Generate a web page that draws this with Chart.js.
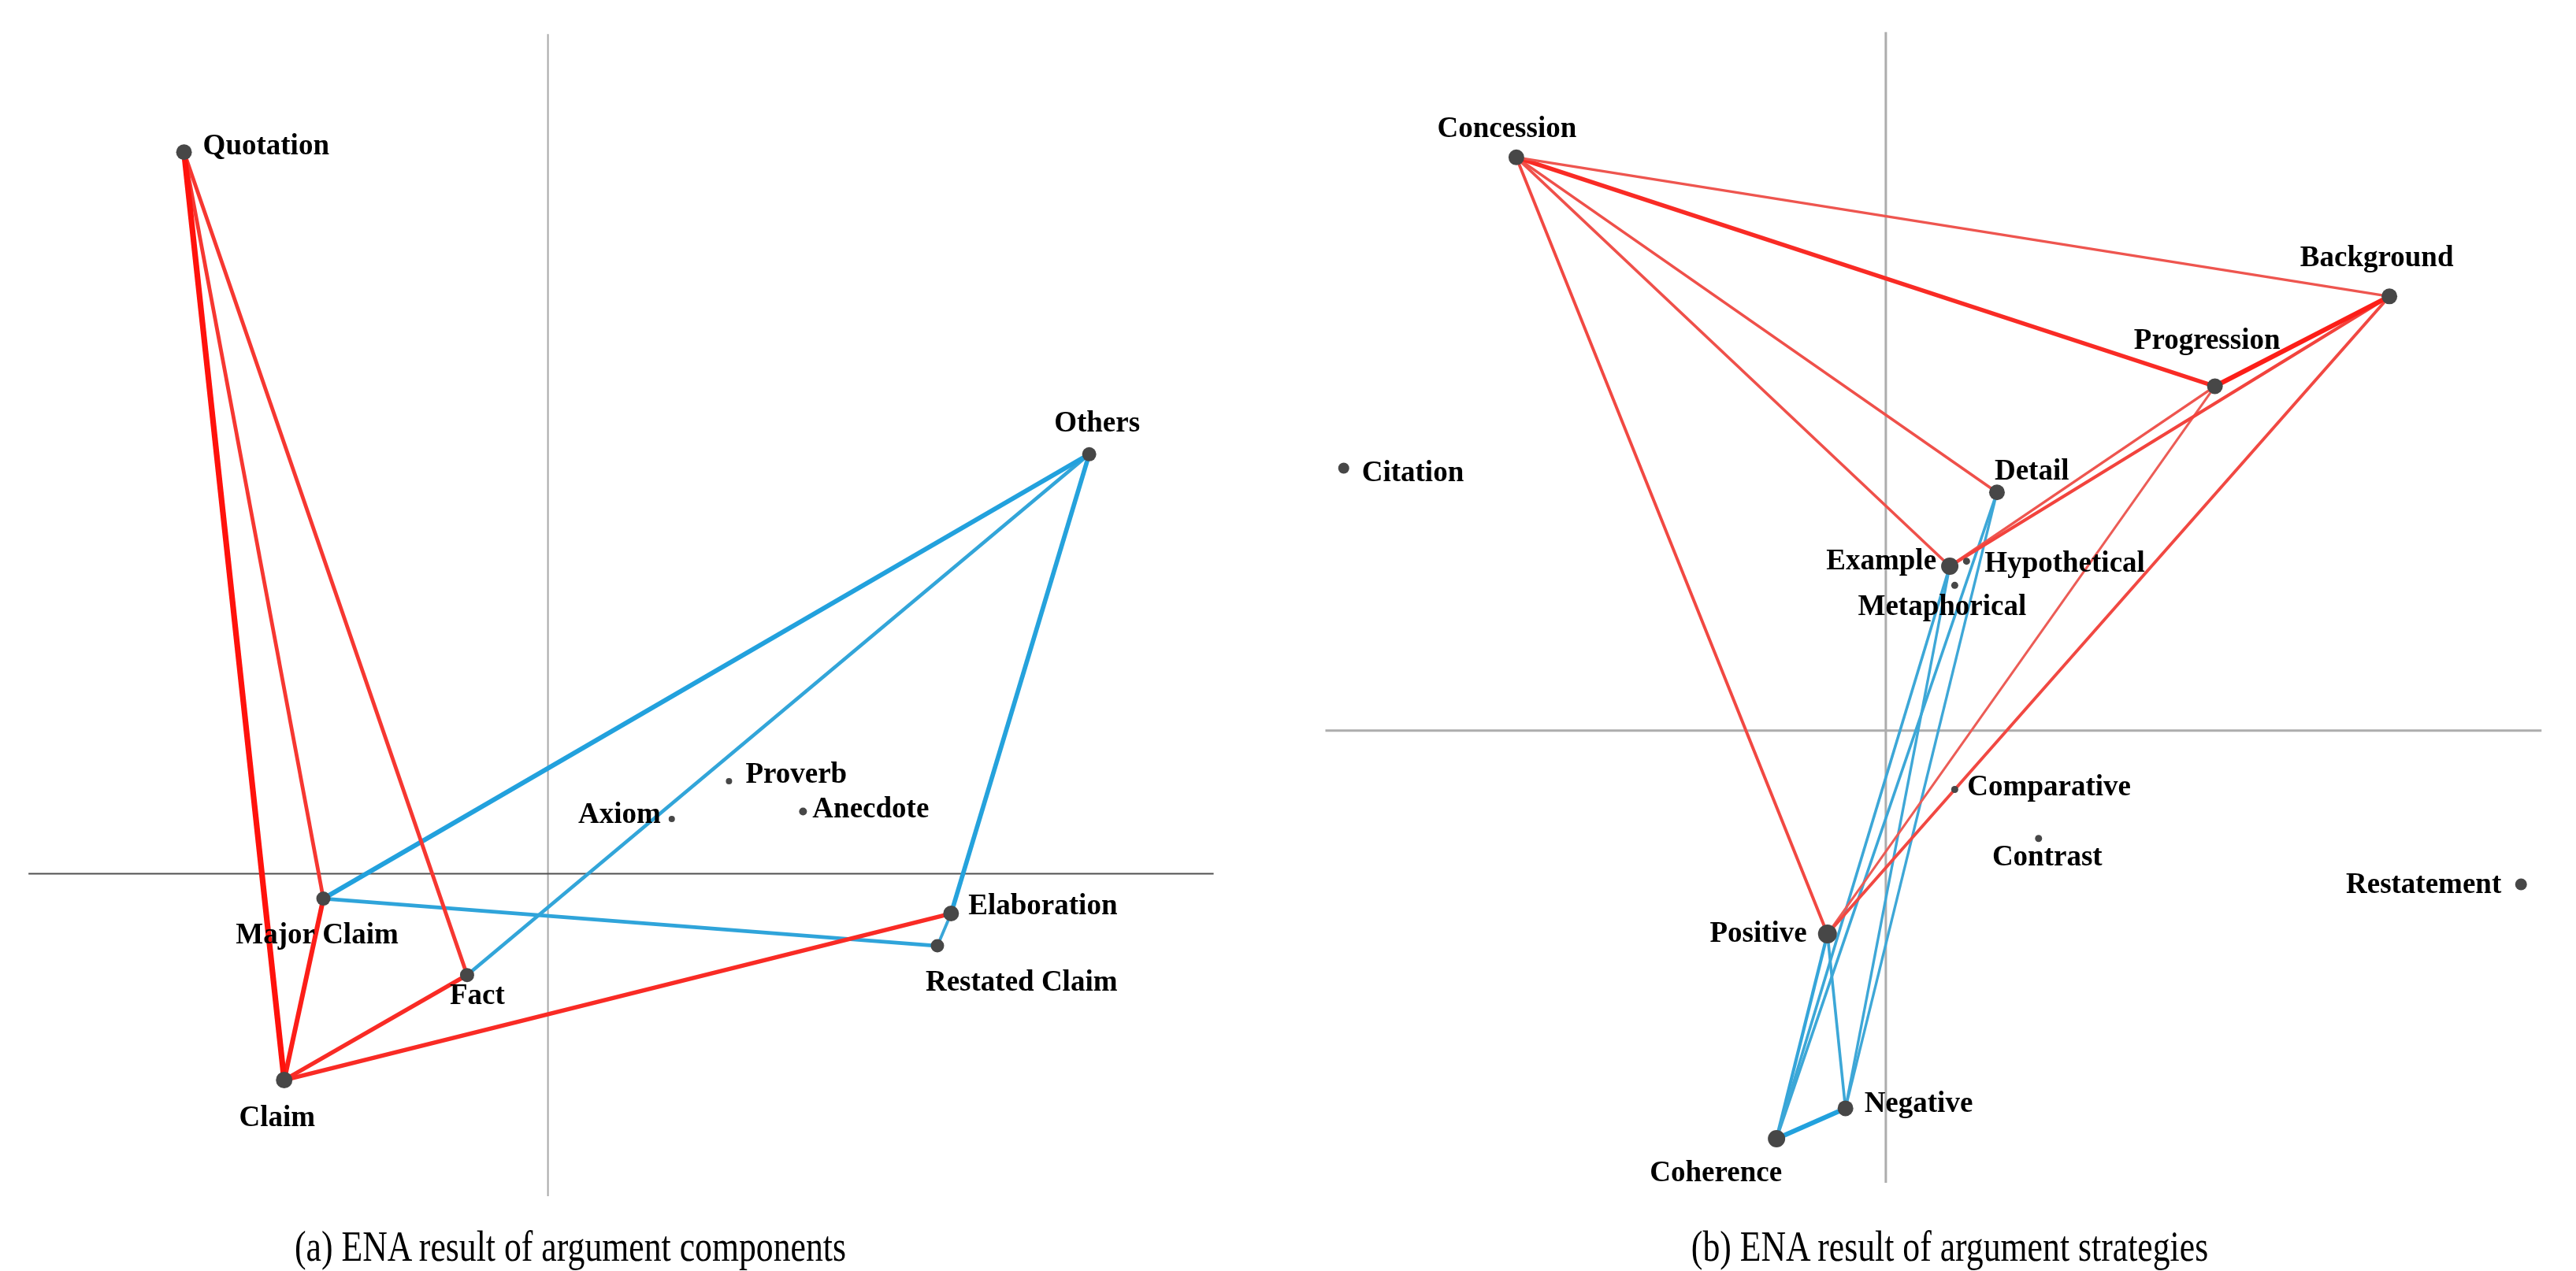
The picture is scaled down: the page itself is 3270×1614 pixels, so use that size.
<!DOCTYPE html>
<html>
<head>
<meta charset="utf-8">
<script src="https://cdn.jsdelivr.net/npm/chart.js@4.4.1/dist/chart.umd.min.js"></script>
<style>
  html, body { margin: 0; padding: 0; background: #fff; }
  body { width: 3270px; height: 1614px; position: relative; overflow: hidden; }
  canvas { position: absolute; top: 0; }
  #left { left: 0; }
  #right { left: 1635px; }
  .caption {
    position: absolute; top: 1556px; width: 1200px; text-align: center;
    font-family: "Liberation Serif", "Times New Roman", serif; font-size: 54px; line-height: 54px;
    color: #000; transform: scaleX(0.81); transform-origin: center top; white-space: nowrap;
  }
</style>
</head>
<body>
<canvas id="left" width="1635" height="1560"></canvas>
<canvas id="right" width="1635" height="1560"></canvas>
<div class="caption" style="left: 124px;">(a) ENA result of argument components</div>
<div class="caption" style="left: 1875px;">(b) ENA result of argument strategies</div>
<script>
// ---- data: (a) argument components ----
const leftNodes = ['Quotation', 'Others', 'Proverb', 'Axiom', 'Anecdote', 'Major Claim', 'Elaboration', 'Restated Claim', 'Fact', 'Claim'];
const leftX = [-0.585, 0.870, 0.291, 0.199, 0.410, -0.361, 0.648, 0.626, -0.130, -0.424];
const leftY = [1.161, 0.675, 0.149, 0.088, 0.100, -0.040, -0.064, -0.116, -0.163, -0.332];
const leftEdges = [
    ['Quotation', 'Claim'], ['Quotation', 'Major Claim'], ['Quotation', 'Fact'],
    ['Claim', 'Major Claim'], ['Claim', 'Fact'], ['Claim', 'Elaboration'],
    ['Major Claim', 'Others'], ['Fact', 'Others'], ['Elaboration', 'Others'],
    ['Major Claim', 'Restated Claim'], ['Elaboration', 'Restated Claim']
];
const leftEdgeWeight = [0.60, 0.40, 0.40, 0.50, 0.45, 0.45, 0.50, 0.38, 0.48, 0.40, 0.32];
const leftEdgeGroup = ['red', 'red', 'red', 'red', 'red', 'red', 'blue', 'blue', 'blue', 'blue', 'blue'];

// ---- data: (b) argument strategies ----
const rightNodes = ['Concession', 'Background', 'Progression', 'Citation', 'Detail', 'Example', 'Hypothetical',
    'Metaphorical', 'Comparative', 'Contrast', 'Restatement', 'Positive', 'Negative', 'Coherence'];
const rightX = [-0.595, 0.811, 0.530, -0.873, 0.179, 0.103, 0.130, 0.111, 0.111, 0.246, 1.023, -0.094, -0.065, -0.176];
const rightY = [0.924, 0.700, 0.555, 0.423, 0.384, 0.265, 0.273, 0.234, -0.095, -0.174, -0.248, -0.328, -0.609, -0.658];
const rightEdges = [
    ['Concession', 'Background'], ['Concession', 'Progression'], ['Concession', 'Detail'],
    ['Concession', 'Example'], ['Concession', 'Positive'], ['Progression', 'Background'],
    ['Background', 'Example'], ['Progression', 'Example'], ['Background', 'Positive'], ['Progression', 'Positive'],
    ['Example', 'Coherence'], ['Detail', 'Coherence'], ['Example', 'Negative'], ['Detail', 'Negative'],
    ['Positive', 'Coherence'], ['Positive', 'Negative'], ['Coherence', 'Negative']
];
const rightEdgeWeight = [0.28, 0.45, 0.30, 0.30, 0.33, 0.50, 0.35, 0.28, 0.33, 0.25, 0.30, 0.30, 0.28, 0.28, 0.35, 0.30, 0.50];
const rightEdgeGroup = ['red', 'red', 'red', 'red', 'red', 'red', 'red', 'red', 'red', 'red',
    'blue', 'blue', 'blue', 'blue', 'blue', 'blue', 'blue'];

// ---- styles / layout ----
const leftRadius = [10, 9, 4, 4, 5, 9, 10, 8.5, 9, 10.5];
const rightRadius = [10, 10, 10, 7, 10, 11, 4.5, 4.5, 4.5, 4.5, 7.5, 12, 10, 11];

// label offsets from the node centre in pixels: [dx, dy(baseline), align]
const leftLabelPos = {
    'Quotation': [24, 3, 'left'], 'Others': [10, -29, 'center'], 'Proverb': [21, 2, 'left'],
    'Axiom': [-14, 5, 'right'], 'Anecdote': [12, 7, 'left'], 'Major Claim': [-8, 57, 'center'],
    'Elaboration': [22, 1, 'left'], 'Restated Claim': [-15, 57, 'left'], 'Fact': [13, 37, 'center'],
    'Claim': [-9, 58, 'center']
};
const rightLabelPos = {
    'Concession': [-12, -26, 'center'], 'Background': [-16, -38, 'center'], 'Progression': [-10, -48, 'center'],
    'Citation': [23, 17, 'left'], 'Detail': [-3, -16, 'left'], 'Example': [-17, 4, 'right'],
    'Hypothetical': [23, 13, 'left'], 'Metaphorical': [-16, 38, 'center'], 'Comparative': [16, 7, 'left'],
    'Contrast': [11, 34, 'center'], 'Restatement': [-25, 11, 'right'], 'Positive': [-26, 10, 'right'],
    'Negative': [24, 5, 'left'], 'Coherence': [-77, 54, 'center']
};

function mix(a, b, t) {
    const c = a.map((v, i) => Math.round(v + (b[i] - v) * t));
    return `rgb(${c[0]}, ${c[1]}, ${c[2]})`;
}

function edgeColor(group, w) {
    // heavier edges are more saturated
    const t = Math.min(1, Math.max(0, (w - 0.25) / 0.3));
    if (group === 'red') {
        return mix([236, 92, 86], [255, 18, 12], t);
    }
    return mix([66, 168, 214], [28, 160, 222], t);
}

const labelPlugin = {
    id: 'nodeLabels',
    afterDatasetsDraw(chart, args, opts) {
        const ctx = chart.ctx;
        const xs = chart.scales.x;
        const ys = chart.scales.y;
        ctx.save();
        ctx.fillStyle = '#000';
        ctx.font = 'bold 37px "Liberation Serif", "Times New Roman", serif';
        ctx.textBaseline = 'alphabetic';
        opts.names.forEach((name, i) => {
            const p = opts.pos[name];
            ctx.textAlign = p[2];
            ctx.fillText(name, xs.getPixelForValue(opts.xs[i]) + p[0], ys.getPixelForValue(opts.ys[i]) + p[1]);
        });
        ctx.restore();
    }
};

function buildChart(canvasId, cfg) {
    const datasets = [];

    datasets.push({
        data: cfg.names.map((n, i) => ({ x: cfg.xs[i], y: cfg.ys[i] })),
        pointRadius: cfg.radius,
        pointBackgroundColor: '#474747',
        pointBorderWidth: 0,
        showLine: false,
        order: 0
    });

    cfg.edges.forEach((e, i) => {
        const a = cfg.names.indexOf(e[0]);
        const b = cfg.names.indexOf(e[1]);
        datasets.push({
            data: [{ x: cfg.xs[a], y: cfg.ys[a] }, { x: cfg.xs[b], y: cfg.ys[b] }],
            showLine: true,
            borderColor: edgeColor(cfg.groups[i], cfg.weights[i]),
            borderWidth: cfg.weights[i] * 12,
            pointRadius: 0,
            order: 1
        });
    });

    // the two axes through the origin
    datasets.push({
        data: [{ x: cfg.axisX[0], y: 0 }, { x: cfg.axisX[1], y: 0 }],
        showLine: true, borderColor: cfg.hColor, borderWidth: cfg.axisWidth, pointRadius: 0, order: 2
    });
    datasets.push({
        data: [{ x: 0, y: cfg.axisY[0] }, { x: 0, y: cfg.axisY[1] }],
        showLine: true, borderColor: cfg.vColor, borderWidth: cfg.axisWidth, pointRadius: 0, order: 2
    });

    return new Chart(document.getElementById(canvasId).getContext('2d'), {
        type: 'scatter',
        data: { datasets: datasets },
        options: {
            responsive: false,
            devicePixelRatio: 1,
            animation: false,
            events: [],
            layout: { padding: 0 },
            scales: {
                x: { display: false, min: cfg.xRange[0], max: cfg.xRange[1] },
                y: { display: false, min: cfg.yRange[0], max: cfg.yRange[1] }
            },
            plugins: {
                legend: { display: false },
                tooltip: { enabled: false },
                nodeLabels: { names: cfg.names, xs: cfg.xs, ys: cfg.ys, pos: cfg.labelPos }
            }
        },
        plugins: [labelPlugin]
    });
}

buildChart('left', {
    names: leftNodes, xs: leftX, ys: leftY, radius: leftRadius,
    edges: leftEdges, weights: leftEdgeWeight, groups: leftEdgeGroup,
    labelPos: leftLabelPos,
    xRange: [-0.8675, 1.17625], yRange: [-0.5575, 1.3925],
    axisX: [-0.835, 1.07], axisY: [-0.519, 1.351],
    hColor: '#505050', vColor: '#A8A8A8', axisWidth: 2
});

buildChart('right', {
    names: rightNodes, xs: rightX, ys: rightY, radius: rightRadius,
    edges: rightEdges, weights: rightEdgeWeight, groups: rightEdgeGroup,
    labelPos: rightLabelPos,
    xRange: [-0.9475, 1.09625], yRange: [-0.7875, 1.1625],
    axisX: [-0.9025, 1.056], axisY: [-0.729, 1.126],
    hColor: '#ADADAD', vColor: '#ADADAD', axisWidth: 3
});
</script>
</body>
</html>
